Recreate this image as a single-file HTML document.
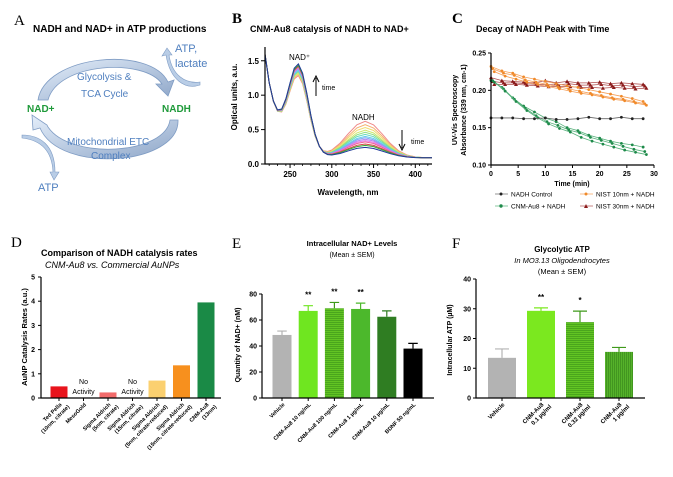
<!DOCTYPE html>
<html><head><meta charset="utf-8"><style>
html,body{margin:0;padding:0;background:#fff;}
svg{display:block;font-family:"Liberation Sans",Arial,sans-serif;}
</style></head><body>
<svg id="fig" width="673" height="477" viewBox="0 0 673 477">
<defs>
<linearGradient id="arrowGrad" x1="0" y1="0" x2="1" y2="1">
<stop offset="0" stop-color="#e4eefa"/><stop offset="1" stop-color="#8ea6c8"/></linearGradient>
<pattern id="hlines" width="4" height="2" patternUnits="userSpaceOnUse"><rect width="4" height="2" fill="#62c423"/><rect width="4" height="0.7" fill="#3f9a1a"/></pattern>
<pattern id="vlines" width="2" height="4" patternUnits="userSpaceOnUse"><rect width="2" height="4" fill="#55b22a"/><rect width="0.7" height="4" fill="#3a8a1c"/></pattern>
</defs>

<!-- Panel A -->
<g>
<text x="14" y="25" font-family="Liberation Serif,serif" font-size="15">A</text>
<text x="33" y="32" font-size="10" font-weight="bold">NADH and NAD+ in ATP productions</text>
<path d="M38,100 C45,55 150,45 168,82 L174,80 L168,96 L156,84 L162,84 C145,58 58,62 48,100 Z" fill="url(#arrowGrad)" stroke="#7f9cc4" stroke-width="0.8"/>
<path d="M178,120 C180,165 60,175 40,128 L33,130 L32,115 L47,125 L48,127 C70,160 165,155 170,120 Z" fill="url(#arrowGrad)" stroke="#7f9cc4" stroke-width="0.8"/>
<path d="M200,85 C185,90 170,80 166,55 L162,56 L167,48 L172,55 L169,55 C172,75 185,84 200,82 Z" fill="#b9cde6" stroke="#7f9cc4" stroke-width="0.6"/>
<path d="M22,135 C40,135 55,145 55,172 L59,172 L54,180 L50,172 L53,172 C52,150 40,140 22,138 Z" fill="#b9cde6" stroke="#7f9cc4" stroke-width="0.6"/>
<g fill="#4f7fbf" font-size="10">
<text x="175" y="52" font-size="11">ATP,</text>
<text x="175" y="67" font-size="11">lactate</text>
<text x="77" y="80">Glycolysis &amp;</text>
<text x="81" y="97">TCA Cycle</text>
<text x="67" y="145">Mitochondrial ETC</text>
<text x="91" y="159">Complex</text>
<text x="38" y="191" font-size="11">ATP</text>
</g>
<text x="27" y="112" font-size="10" font-weight="bold" fill="#1f9a3a">NAD+</text>
<text x="162" y="112" font-size="10" font-weight="bold" fill="#1f9a3a">NADH</text>
</g>

<!-- Panel B -->
<g id="pb">
<text x="232" y="23" font-family="Liberation Serif,serif" font-size="15" font-weight="bold">B</text>
<text x="250" y="32" font-size="9" font-weight="bold">CNM-Au8 catalysis of NADH to NAD+</text>
<text x="289" y="60" font-size="8">NAD⁺</text>
<text x="352" y="120" font-size="8">NADH</text>
<text x="322" y="90" font-size="7">time</text>
<text x="411" y="144" font-size="7">time</text>
<path d="M316,96 V78 M313,82 L316,76 L319,82" stroke="#000" fill="none" stroke-width="1"/>
<path d="M402,130 V148 M399,144 L402,150 L405,144" stroke="#000" fill="none" stroke-width="1"/>
<text transform="translate(237,97) rotate(-90)" text-anchor="middle" font-size="8" font-weight="bold">Optical units, a.u.</text>
<text x="348" y="195" text-anchor="middle" font-size="8" font-weight="bold">Wavelength, nm</text>
</g>

<!-- Panel C -->
<g id="pc">
<text x="452" y="23" font-family="Liberation Serif,serif" font-size="15" font-weight="bold">C</text>
<text x="476" y="32" font-size="9" font-weight="bold">Decay of NADH Peak with Time</text>
<text transform="translate(457,110) rotate(-90)" text-anchor="middle" font-size="7" font-weight="bold">UV-Vis Spectroscopy</text>
<text transform="translate(466,110) rotate(-90)" text-anchor="middle" font-size="7" font-weight="bold">Absorbance (339 nm, cm-1)</text>
<text x="572" y="186" text-anchor="middle" font-size="7" font-weight="bold">Time (min)</text>
<g font-size="6.5">
<g><line x1="495" y1="194" x2="508" y2="194" stroke="#666" stroke-width="0.7"/><circle cx="501" cy="194" r="1.5" fill="#222"/><text x="511" y="196.5">NADH Control</text></g>
<g><line x1="580" y1="194" x2="593" y2="194" stroke="#f5a05a" stroke-width="0.7"/><circle cx="586" cy="194" r="1.5" fill="#f08a2a"/><text x="596" y="196.5">NIST 10nm + NADH</text></g>
<g><line x1="495" y1="206" x2="508" y2="206" stroke="#55b07a" stroke-width="0.7"/><circle cx="501" cy="206" r="1.7" fill="#1e8a4a"/><text x="511" y="208.5">CNM-Au8 + NADH</text></g>
<g><line x1="580" y1="206" x2="593" y2="206" stroke="#b05050" stroke-width="0.7"/><path d="M586,204 L588,208 L584,208Z" fill="#8a1a1a"/><text x="596" y="208.5">NIST 30nm + NADH</text></g>
</g>
</g>

<!-- Panel D -->
<g id="pd">
<text x="11" y="247" font-family="Liberation Serif,serif" font-size="15">D</text>
<text x="41" y="256" font-size="9" font-weight="bold">Comparison of NADH catalysis rates</text>
<text x="45" y="268" font-size="9" font-style="italic">CNM-Au8 vs. Commercial AuNPs</text>
<text transform="translate(27,337) rotate(-90)" text-anchor="middle" font-size="7.5" font-weight="bold">AuNP Catalysis Rates (a.u.)</text>
</g>

<!-- Panel E -->
<g id="pe">
<text x="232" y="248" font-family="Liberation Serif,serif" font-size="15">E</text>
<text x="352" y="246" text-anchor="middle" font-size="7.5" font-weight="bold">Intracellular NAD+ Levels</text>
<text x="352" y="257" text-anchor="middle" font-size="7">(Mean ± SEM)</text>
<text transform="translate(240,345) rotate(-90)" text-anchor="middle" font-size="7" font-weight="bold">Quantity of NAD+ (nM)</text>
</g>

<!-- Panel F -->
<g id="pf">
<text x="452" y="248" font-family="Liberation Serif,serif" font-size="15">F</text>
<text x="562" y="252" text-anchor="middle" font-size="8" font-weight="bold">Glycolytic ATP</text>
<text x="562" y="263" text-anchor="middle" font-size="7.5" font-style="italic">In MO3.13 Oligodendrocytes</text>
<text x="562" y="274" text-anchor="middle" font-size="7.5">(Mean ± SEM)</text>
<text transform="translate(452,340) rotate(-90)" text-anchor="middle" font-size="7" font-weight="bold">Intracellular ATP (µM)</text>
</g>
</svg>
<script>
// ---- Panel B data
const bWave = [220,225,230,235,240,245,250,255,260,265,270,275,280,285,290,295,300,310,320,330,340,350,360,370,380,390,400,410,420];
const bNadPeak = [1.28,1.30,1.31,1.32,1.34,1.35,1.36,1.38,1.39,1.40,1.41,1.42,1.43,1.45];
const bNadhPeak = [0.53,0.48,0.44,0.40,0.37,0.34,0.31,0.29,0.27,0.25,0.23,0.20,0.18,0.15];
const bColors = ['#f08a8a','#f5b070','#f2dc70','#cde870','#8ede80','#66dcbc','#66ccee','#7ea6f2','#b488f0','#e67ae6','#f0609a','#d84040','#3aa83a','#1f3a9a'];
const bXTicks = [250,300,350,400];
const bYTicks = [0.0,0.5,1.0,1.5];
// ---- Panel C data
const cTime = [0,2,4,6,8,10,12,14,16,18,20,22,24,26,28];
const cControl = [0.163,0.163,0.163,0.162,0.162,0.163,0.161,0.161,0.162,0.164,0.162,0.162,0.164,0.162,0.162];
const cGreen1 = [0.213,0.204,0.190,0.179,0.171,0.163,0.158,0.150,0.146,0.140,0.136,0.132,0.129,0.127,0.124];
const cGreen2 = [0.213,0.202,0.188,0.176,0.166,0.158,0.153,0.147,0.143,0.137,0.133,0.129,0.125,0.121,0.118];
const cGreen3 = [0.211,0.199,0.185,0.173,0.163,0.155,0.149,0.144,0.137,0.132,0.128,0.124,0.120,0.117,0.114];
const cOrange1 = [0.232,0.226,0.223,0.218,0.215,0.212,0.209,0.206,0.204,0.201,0.198,0.195,0.192,0.189,0.185];
const cOrange2 = [0.229,0.223,0.220,0.214,0.211,0.208,0.205,0.202,0.199,0.196,0.193,0.190,0.188,0.185,0.182];
const cOrange3 = [0.225,0.219,0.215,0.211,0.208,0.205,0.202,0.199,0.196,0.194,0.191,0.188,0.186,0.183,0.180];
const cRed1 = [0.217,0.213,0.212,0.211,0.210,0.213,0.210,0.212,0.210,0.210,0.211,0.209,0.210,0.209,0.208];
const cRed2 = [0.212,0.210,0.210,0.209,0.208,0.208,0.207,0.209,0.207,0.207,0.208,0.206,0.207,0.205,0.206];
const cRed3 = [0.208,0.208,0.208,0.207,0.206,0.205,0.205,0.205,0.204,0.204,0.203,0.204,0.203,0.202,0.203];
const cXTicks = [0,5,10,15,20,25,30];
const cYTicks = [0.10,0.15,0.20,0.25];
// ---- Panel D data
const dLabels1 = ['Ted Pella','MesoGold','Sigma Aldrich','Sigma Aldrich','Sigma Aldrich','Sigma Aldrich','CNM-Au8'];
const dLabels2 = ['(10nm, citrate)','','(5nm, citrate)','(15nm, citrate)','(5nm, citrate-reduced)','(15nm, citrate-reduced)','(13nm)'];
const dValues = [0.48,0,0.23,0,0.72,1.35,3.95];
const dColors = ['#e8141c','none','#f26b6b','none','#fbd070','#f7901e','#1a8a46'];
const dYTicks = [0,1,2,3,4,5];
// ---- Panel E data
const eLabels = ['Vehicle','CNM-Au8 10 ng/mL','CNM-Au8 100 ng/mL','CNM-Au8 1 µg/mL','CNM-Au8 10 µg/mL','BDNF 50 ng/mL'];
const eValues = [48.5,67,69,68.5,62.5,38];
const eErrors = [3,4,4.5,4.5,4.5,4];
const eStars = ['','**','**','**','',''];
const eColors = ['#b3b3b3','#6fe620','url(#hlines)','#4cb82c','#2f7d22','#000'];
const eYTicks = [0,20,40,60,80];
// ---- Panel F data
const fLabels1 = ['Vehicle','CNM-Au8','CNM-Au8','CNM-Au8'];
const fLabels2 = ['','0.1 µg/ml','0.32 µg/ml','1 µg/ml'];
const fValues = [13.5,29.3,25.5,15.5];
const fErrors = [3,1,3.7,1.5];
const fStars = ['','**','*',''];
const fColors = ['#b3b3b3','#7be81f','url(#hlines)','url(#vlines)'];
const fYTicks = [0,10,20,30,40];

const NS='http://www.w3.org/2000/svg';
function mk(parent,tag,attrs,txt){const e=document.createElementNS(NS,tag);for(const k in attrs)e.setAttribute(k,attrs[k]);if(txt!==undefined)e.textContent=txt;parent.appendChild(e);return e;}
function lin(d0,d1,r0,r1){return v=>r0+(v-d0)*(r1-r0)/(d1-d0);}

// ---- Panel B
(function(){
const g=document.getElementById('pb');
const x=lin(220,420,265,432), y=lin(0,1.7,164,47);
const gau=(l,c,s)=>Math.exp(-((l-c)*(l-c))/(2*s*s));
bNadPeak.forEach((p,i)=>{
  const q=bNadhPeak[i];
  const pts=bWave.map(l=>{const v=0.09+1.5*Math.exp(-(l-220)/15)+(p-0.19)*gau(l,260,12)+q*gau(l,340,22);return x(l).toFixed(1)+','+y(v).toFixed(1);});
  const pl=mk(g,'polyline',{points:pts.join(' '),fill:'none',stroke:bColors[i],'stroke-width':1});
  
  
});
const ax=mk(g,'path',{d:`M265,47 V164 H432`,stroke:'#000','stroke-width':1.2,fill:'none'});


for(let l=225;l<=420;l+=10){mk(g,'line',{x1:x(l),x2:x(l),y1:164,y2:166,stroke:'#000','stroke-width':0.8});}
bXTicks.forEach(t=>{mk(g,'line',{x1:x(t),x2:x(t),y1:164,y2:168,stroke:'#000'});
  const tx=mk(g,'text',{x:x(t),y:177,'text-anchor':'middle','font-size':8,'font-weight':'bold'},t);
  
  });
bYTicks.forEach(t=>{mk(g,'line',{x1:261,x2:265,y1:y(t),y2:y(t),stroke:'#000'});
  const tx=mk(g,'text',{x:259,y:y(t)+3,'text-anchor':'end','font-size':8,'font-weight':'bold'},t.toFixed(1));
  
  });
})();

// ---- Panel C
(function(){
const g=document.getElementById('pc');
const x=lin(0,30,491,654), y=lin(0.10,0.25,165,53);
const series=[[cRed1,'#b05050','#8a1a1a','tri'],[cRed2,'#b05050','#8a1a1a','tri'],[cRed3,'#b05050','#8a1a1a','tri'],
 [cOrange1,'#f5a05a','#f08a2a','c'],[cOrange2,'#f5a05a','#f08a2a','c'],[cOrange3,'#f5a05a','#f08a2a','c'],
 [cGreen1,'#55b07a','#1e8a4a','c'],[cGreen2,'#55b07a','#1e8a4a','c'],[cGreen3,'#55b07a','#1e8a4a','c'],
 [cControl,'#666','#222','c']];
series.forEach(([vals,lc,mc,sh],si)=>{
  const off=(si%3)*0.3;
  const pl=mk(g,'polyline',{points:vals.map((v,i)=>x(cTime[i]+off)+','+y(v)).join(' '),fill:'none',stroke:lc,'stroke-width':0.8});
  
  
  vals.forEach((v,i)=>{const cx=x(cTime[i]+off),cy=y(v);
    const m= sh==='tri'?mk(g,'path',{d:`M${cx},${cy-2} L${cx+2},${cy+1.6} L${cx-2},${cy+1.6}Z`,fill:mc}):mk(g,'circle',{cx,cy,r:1.4,fill:mc});
    
    });
});
const ax=mk(g,'path',{d:`M491,53 V165 H654`,stroke:'#000','stroke-width':1.2,fill:'none'});


cXTicks.forEach(t=>{mk(g,'line',{x1:x(t),x2:x(t),y1:165,y2:168,stroke:'#000'});
  const tx=mk(g,'text',{x:x(t),y:176,'text-anchor':'middle','font-size':7,'font-weight':'bold'},t);
  
  });
cYTicks.forEach(t=>{mk(g,'line',{x1:488,x2:491,y1:y(t),y2:y(t),stroke:'#000'});
  const tx=mk(g,'text',{x:486,y:y(t)+2.5,'text-anchor':'end','font-size':7,'font-weight':'bold'},t.toFixed(2));
  
  });
})();

// ---- Panel D
(function(){
const g=document.getElementById('pd');
const y=lin(0,5,398,277); const x0=59, step=24.5, bw=17;
dValues.forEach((v,i)=>{const cx=x0+i*step;
  if(dColors[i]!=='none'){const r=mk(g,'rect',{x:cx-bw/2,y:y(v),width:bw,height:398-y(v),fill:dColors[i]});
    
    }
  else{const t1=mk(g,'text',{x:cx,y:384,'text-anchor':'middle','font-size':7},'No');
    
    
    const t2=mk(g,'text',{x:cx,y:394,'text-anchor':'middle','font-size':7},'Activity');
    
    }
  mk(g,'line',{x1:cx,x2:cx,y1:398,y2:401,stroke:'#000'});
  const lb=mk(g,'text',{transform:`translate(${cx+3},${405}) rotate(-45)`,'text-anchor':'end','font-size':5.5,'font-weight':'bold'});
  
  
  mk(lb,'tspan',{x:0,y:0},dLabels1[i]); if(dLabels2[i])mk(lb,'tspan',{x:4,y:7},dLabels2[i]);
});
const ax=mk(g,'path',{d:`M41,277 V398 H221`,stroke:'#000','stroke-width':1.2,fill:'none'});


dYTicks.forEach(t=>{mk(g,'line',{x1:38,x2:41,y1:y(t),y2:y(t),stroke:'#000'});
  const tx=mk(g,'text',{x:35,y:y(t)+2.5,'text-anchor':'end','font-size':7,'font-weight':'bold'},t);
  
  });
})();

// ---- Bar with error helper for E/F
function errBars(g,labels1,labels2,vals,errs,stars,cols,ticks,ymax,ax0,axEnd,yTop,x0,step,bw,fs,prefix){
const y=lin(0,ymax,398,yTop);
vals.forEach((v,i)=>{const cx=x0+i*step;
  const r=mk(g,'rect',{x:cx-bw/2,y:y(v),width:bw,height:398-y(v),fill:cols[i]});
  
  
  const ec=cols[i].startsWith('url')?'#3f9a1a':cols[i];
  const e=mk(g,'path',{d:`M${cx},${y(v)} V${y(v+errs[i])} M${cx-bw/4},${y(v+errs[i])} H${cx+bw/4}`,stroke:ec,'stroke-width':1.2,fill:'none'});
  
  
  if(stars[i]){const s=mk(g,'text',{x:cx,y:y(v+errs[i])-8,'text-anchor':'middle','font-size':8,'font-weight':'bold'},stars[i]);
    
    }
  mk(g,'line',{x1:cx,x2:cx,y1:398,y2:401,stroke:'#000'});
  const lb=mk(g,'text',{transform:`translate(${cx+3},${405}) rotate(-45)`,'text-anchor':'end','font-size':fs,'font-weight':'bold'});
  
  
  mk(lb,'tspan',{x:0,y:0},labels1[i]); if(labels2&&labels2[i])mk(lb,'tspan',{x:4,y:7},labels2[i]);
});
const a=mk(g,'path',{d:`M${ax0},${yTop} V398 H${axEnd}`,stroke:'#000','stroke-width':1.2,fill:'none'});


ticks.forEach(t=>{mk(g,'line',{x1:ax0-3,x2:ax0,y1:y(t),y2:y(t),stroke:'#000'});
  const tx=mk(g,'text',{x:ax0-5,y:y(t)+2.5,'text-anchor':'end','font-size':7,'font-weight':'bold'},t);
  
  });
}
errBars(document.getElementById('pe'),eLabels,null,eValues,eErrors,eStars,eColors,eYTicks,80,262,434,294,282,26.2,19,5.5,'panel-e');
errBars(document.getElementById('pf'),fLabels1,fLabels2,fValues,fErrors,fStars,fColors,fYTicks,40,476,645,279,502,39,28,6,'panel-f');
</script>
</body></html>
